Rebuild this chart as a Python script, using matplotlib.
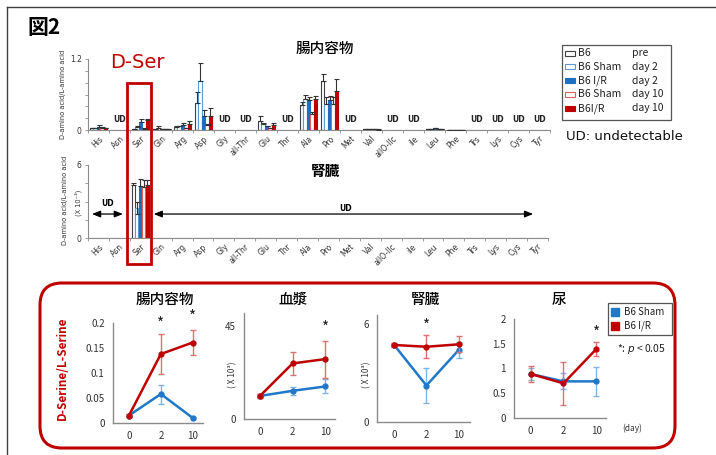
import numpy as np
import matplotlib
matplotlib.use("Agg")
import matplotlib.pyplot as plt
from matplotlib.patches import Rectangle, FancyBboxPatch

plt.rcParams['font.family'] = ['Noto Sans CJK JP', 'DejaVu Sans']

nan = np.nan

# ---- amino acid panel data (D-amino acid / L-amino acid) ----
amino_acids = ['His', 'Asn', 'Ser', 'Gln', 'Arg', 'Asp', 'Gly', 'all-Thr', 'Glu', 'Thr',
               'Ala', 'Pro', 'Met', 'Val', 'allO-Ilc', 'ile', 'Leu', 'Phe', 'Trs', 'Lys',
               'Cys', 'Tyr']
ud_gut = ['Asn', 'Gly', 'all-Thr', 'Thr', 'Met', 'allO-Ilc', 'ile', 'Trs', 'Lys', 'Cys', 'Tyr']

gut_pre = [0.03, nan, 0.01, 0.01, 0.05, 0.45, nan, nan, 0.16, nan, 0.42, 0.83, nan, 0.01, nan, nan, 0.02, 0.004, nan, nan, nan, nan]
gut_pre_err = [0.01, 0, 0.005, 0.005, 0.01, 0.20, 0, 0, 0.07, 0, 0.06, 0.11, 0, 0.005, 0, 0, 0.005, 0, 0, 0, 0, 0]
gut_sham2 = [0.03, nan, 0.05, 0.03, 0.06, 0.82, nan, nan, 0.10, nan, 0.53, 0.44, nan, 0.02, nan, nan, 0.02, 0.004, nan, nan, nan, nan]
gut_sham2_err = [0.01, 0, 0.02, 0.03, 0.01, 0.31, 0, 0, 0.01, 0, 0.06, 0.12, 0, 0.005, 0, 0, 0.005, 0, 0, 0, 0, 0]
gut_ir2 = [0.05, nan, 0.14, 0.01, 0.09, 0.23, nan, nan, 0.06, nan, 0.51, 0.50, nan, 0.01, nan, nan, 0.03, 0.004, nan, nan, nan, nan]
gut_ir2_err = [0.04, 0, 0.04, 0.005, 0.03, 0.11, 0, 0, 0.01, 0, 0.04, 0.07, 0, 0.005, 0, 0, 0.005, 0, 0, 0, 0, 0]
gut_sham10 = [0.04, nan, 0.02, 0.01, 0.03, 0.085, nan, nan, 0.03, nan, 0.27, 0.44, nan, 0.01, nan, nan, 0.01, 0.008, nan, nan, nan, nan]
gut_sham10_err = [0.01, 0, 0.01, 0.005, 0.01, 0.02, 0, 0, 0.01, 0, 0.03, 0.12, 0, 0.005, 0, 0, 0.005, 0, 0, 0, 0, 0]
gut_ir10 = [0.03, nan, 0.17, 0.02, 0.10, 0.24, nan, nan, 0.08, nan, 0.52, 0.66, nan, 0.005, nan, nan, 0.015, 0.003, nan, nan, nan, nan]
gut_ir10_err = [0.01, 0, 0.02, 0.005, 0.06, 0.14, 0, 0, 0.04, 0, 0.05, 0.20, 0, 0.005, 0, 0, 0.005, 0, 0, 0, 0, 0]

kid_pre = [nan, nan, 4.35] + [nan] * 19
kid_pre_err = [0, 0, 0.2] + [0] * 19
kid_sham2 = [nan, nan, 2.5] + [nan] * 19
kid_sham2_err = [0, 0, 0.5] + [0] * 19
kid_ir2 = [nan, nan, 4.25] + [nan] * 19
kid_ir2_err = [0, 0, 0.6] + [0] * 19
kid_sham10 = [nan, nan, 4.2] + [nan] * 19
kid_sham10_err = [0, 0, 0.55] + [0] * 19
kid_ir10 = [nan, nan, 4.35] + [nan] * 19
kid_ir10_err = [0, 0, 0.45] + [0] * 19

group_names = ['B6', 'B6 Sham', 'B6 I/R', 'B6 Sham', 'B6I/R']
group_days = ['pre', 'day 2', 'day 2', 'day 10', 'day 10']

# ---- time course data (D-Serine / L-Serine) ----
days = ['0', '2', '10']
gut_sham = [0.015, 0.058, 0.010]
gut_sham_err = [0.003, 0.019, 0.002]
gut_ir = [0.015, 0.138, 0.161]
gut_ir_err = [0.003, 0.040, 0.025]
plasma_sham = [11.2, 13.7, 15.8]
plasma_sham_err = [1.0, 2.0, 3.4]
plasma_ir = [11.2, 27.0, 29.1]
plasma_ir_err = [1.0, 5.5, 9.0]
kidney_sham = [4.73, 2.24, 4.42]
kidney_sham_err = [0.15, 1.05, 0.5]
kidney_ir = [4.73, 4.62, 4.77]
kidney_ir_err = [0.15, 0.72, 0.5]
urine_sham = [0.89, 0.74, 0.74]
urine_sham_err = [0.12, 0.16, 0.30]
urine_ir = [0.89, 0.70, 1.39]
urine_ir_err = [0.16, 0.44, 0.14]

W, H = 716, 455
fig = plt.figure(figsize=(W / 100, H / 100), dpi=100)
fig.patch.set_facecolor('white')


def axes_px(x0, y0, x1, y1):
    return fig.add_axes([x0 / W, 1 - y1 / H, (x1 - x0) / W, (y1 - y0) / H])


AX_GRAY = '#8c8c8c'
TXT_GRAY = '#333333'
RED = '#c00000'
BLUE = '#1f78c8'

bar_styles = [
    dict(facecolor='white', edgecolor='#404040'),
    dict(facecolor='white', edgecolor='#5b9bd5'),
    dict(facecolor='#1f6fc0', edgecolor='#1f6fc0'),
    dict(facecolor='white', edgecolor='#e06060'),
    dict(facecolor='#c00000', edgecolor='#c00000'),
]


def style_bar_axes(ax, ymax, yticklabels):
    for s in ['top', 'right']:
        ax.spines[s].set_visible(False)
    for s in ['left', 'bottom']:
        ax.spines[s].set_color(AX_GRAY)
        ax.spines[s].set_linewidth(0.8)
    ax.set_xlim(-0.5, len(amino_acids) - 0.5)
    ax.set_ylim(0, ymax)
    ax.set_xticks(np.arange(len(amino_acids)))
    ax.set_xticklabels(amino_acids, rotation=45, ha='right', rotation_mode='anchor',
                       fontsize=5.5, color=TXT_GRAY, family='DejaVu Sans')
    ax.tick_params(axis='x', which='major', length=0, pad=3)
    ax.set_xticks(np.arange(-0.5, len(amino_acids), 1), minor=True)
    ax.tick_params(axis='x', which='minor', length=2.5, color=AX_GRAY, width=0.6)
    ax.set_yticks(np.linspace(0, ymax, len(yticklabels)))
    ax.set_yticklabels(yticklabels, fontsize=5.5, color=TXT_GRAY, family='DejaVu Sans')
    ax.tick_params(axis='y', length=2.5, color=AX_GRAY, width=0.6, pad=2)


def draw_bars(ax, series, errs, width=0.16, symmetric=()):
    x = np.arange(len(amino_acids))
    for k, (vals, err) in enumerate(zip(series, errs)):
        vals = np.array(vals, dtype=float)
        err = np.array(err, dtype=float)
        pos = x + (k - 2) * 0.165
        ax.bar(pos, np.nan_to_num(vals), width=width, linewidth=0.8, zorder=2, **bar_styles[k])
        mask = ~np.isnan(vals)
        lower = err if k in symmetric else np.zeros_like(err)
        ax.errorbar(pos[mask], vals[mask], yerr=[lower[mask], err[mask]], fmt='none',
                    ecolor='#333333', elinewidth=0.8, capsize=1.8, capthick=0.8, zorder=3)


# ---- gut contents bar chart ----
ax1 = axes_px(88, 59, 550, 130)
style_bar_axes(ax1, 1.2, ['0', '', '', '', '', '', '1.2'])
draw_bars(ax1, [gut_pre, gut_sham2, gut_ir2, gut_sham10, gut_ir10],
          [gut_pre_err, gut_sham2_err, gut_ir2_err, gut_sham10_err, gut_ir10_err])
for name in ud_gut:
    ax1.text(amino_acids.index(name), 0.17, 'UD', ha='center', va='center',
             fontsize=5.5, fontweight='bold', color='#222222', family='DejaVu Sans')

# ---- kidney bar chart ----
ax2 = axes_px(88, 165, 548, 238)
style_bar_axes(ax2, 6, ['0', '', '', '', '6'])
draw_bars(ax2, [kid_pre, kid_sham2, kid_ir2, kid_sham10, kid_ir10],
          [kid_pre_err, kid_sham2_err, kid_ir2_err, kid_sham10_err, kid_ir10_err],
          symmetric=(1,))
arrow_kw = dict(arrowstyle='<|-|>,head_length=0.5,head_width=0.2', color='black', lw=0.9,
                shrinkA=0, shrinkB=0)
ax2.annotate('', xy=(-0.31, 1.97), xytext=(1.17, 1.97), arrowprops=arrow_kw)
ax2.annotate('', xy=(2.64, 1.97), xytext=(20.79, 1.97), arrowprops=arrow_kw)
ax2.text(0.43, 2.8, 'UD', ha='center', va='center', fontsize=5.5, fontweight='bold',
         family='DejaVu Sans')
ax2.text(11.8, 2.45, 'UD', ha='center', va='center', fontsize=5.5, fontweight='bold',
         family='DejaVu Sans')


# ---- time course line charts ----
def line_panel(box, xlim, ylim, yticks, yticklabels, sham, sham_err, ir, ir_err, stars):
    ax = axes_px(*box)
    for s in ['top', 'right']:
        ax.spines[s].set_visible(False)
    for s in ['left', 'bottom']:
        ax.spines[s].set_color('#8a8a8a')
        ax.spines[s].set_linewidth(1.0)
    x = np.arange(len(days))
    ax.errorbar(x, sham, yerr=sham_err, color=BLUE, ecolor='#7fb4e6', elinewidth=1.0,
                capsize=2.5, capthick=1.0, lw=1.8, marker='o', ms=3.5, zorder=3)
    ax.errorbar(x, ir, yerr=ir_err, color=RED, ecolor='#e07070', elinewidth=1.0,
                capsize=2.5, capthick=1.0, lw=1.8, marker='o', ms=3.5, zorder=4)
    ax.set_xlim(*xlim)
    ax.set_ylim(*ylim)
    ax.set_xticks(x)
    ax.set_xticklabels(days, fontsize=7, color=TXT_GRAY)
    ax.set_yticks(yticks)
    ax.set_yticklabels(yticklabels, fontsize=7, color=TXT_GRAY)
    ax.tick_params(length=0, pad=6)
    for xi, yi in stars:
        ax.text(xi, yi, '*', ha='center', va='center', fontsize=11, color='#222222',
                clip_on=False)
    return ax


line_panel((113, 323, 203, 423), (-0.5, 2.32), (0, 0.2),
           [0, 0.05, 0.1, 0.15, 0.2], ['0', '0.05', '0.1', '0.15', '0.2'],
           gut_sham, gut_sham_err, gut_ir, gut_ir_err, [(1, 0.197), (2, 0.211)])
line_panel((244, 313, 335, 419), (-0.49, 2.3), (0, 51.5),
           [0, 45], ['0', '45'],
           plasma_sham, plasma_sham_err, plasma_ir, plasma_ir_err, [(2, 44)])
line_panel((377, 315, 470, 422), (-0.53, 2.35), (0, 6.57),
           [0, 6], ['0', '6'],
           kidney_sham, kidney_sham_err, kidney_ir, kidney_ir_err, [(1, 5.9)])
line_panel((514, 319, 606, 418), (-0.51, 2.3), (0, 2),
           [0, 0.5, 1, 1.5, 2], ['0', '0.5', '1', '1.5', '2'],
           urine_sham, urine_sham_err, urine_ir, urine_ir_err, [(2, 1.72)])

# ---- annotation layer in pixel coordinates ----
ov = fig.add_axes([0, 0, 1, 1])
ov.set_xlim(0, W)
ov.set_ylim(H, 0)
ov.set_axis_off()

# frame lines
ov.plot([7, W], [7, 7], color='#404040', lw=1.0)
ov.plot([7, 7], [7, H], color='#404040', lw=1.0)

ov.text(27, 28, '図2', fontsize=15, fontweight='bold', ha='left', va='center')
ov.text(137, 62, 'D-Ser', fontsize=14, color=RED, ha='center', va='center',
        family='DejaVu Sans')
ov.add_patch(Rectangle((127, 83), 24, 181, fill=False, edgecolor=RED, lw=2.0))

ov.text(325, 49, '腸内容物', fontsize=10.5, fontweight='medium', ha='center', va='center')
ov.text(325, 171, '腎臓', fontsize=10.5, fontweight='bold', ha='center', va='center')

ov.text(63, 94, 'D-amino acid/L-amino acid', fontsize=4.8, rotation=90,
        ha='center', va='center', family='DejaVu Sans', color=TXT_GRAY)
ov.text(65, 200, 'D-amino acid/L-amino acid', fontsize=4.8, rotation=90,
        ha='center', va='center', family='DejaVu Sans', color=TXT_GRAY)
ov.text(78, 203, '(X 10⁻³)', fontsize=4.8, rotation=90,
        ha='center', va='center', family='DejaVu Sans', color=TXT_GRAY)

# legend for bar charts
ov.add_patch(Rectangle((562, 45), 109, 75, fill=False, edgecolor='#555555', lw=0.9))
row_y = [53.3, 66.7, 80.7, 94.3, 108.3]
for k in range(5):
    ov.add_patch(Rectangle((564.5, row_y[k] - 2.5), 10, 5, linewidth=0.8, **bar_styles[k]))
    ov.text(578, row_y[k], group_names[k], fontsize=7.5, ha='left', va='center',
            color='#222222')
    ov.text(632, row_y[k], group_days[k], fontsize=7.5, ha='left', va='center',
            color='#222222')
ov.text(566, 137, 'UD: undetectable', fontsize=9.5, ha='left', va='center',
        color='#111111', family='DejaVu Sans')

# rounded frame around time courses
ov.add_patch(FancyBboxPatch((40, 283), 635, 165,
                            boxstyle='round,pad=0,rounding_size=22',
                            fill=False, edgecolor=RED, lw=2.2))
ov.text(62, 368, 'D-Serine/L-Serine', fontsize=8.5, color=RED, rotation=90,
        ha='center', va='center', fontweight='bold')
for xc, title in [(165, '腸内容物'), (293, '血漿'), (425, '腎臓'), (559, '尿')]:
    ov.text(xc, 300, title, fontsize=10.5, ha='center', va='center', fontweight='medium')
for xc in (233, 367):
    ov.text(xc, 375, '( X 10³)', fontsize=6, rotation=90, ha='center', va='center',
            color=TXT_GRAY)
ov.text(632, 428, '(day)', fontsize=6, ha='center', va='center', color=TXT_GRAY)

# legend for time courses
ov.add_patch(Rectangle((608, 303), 64, 32, fill=False, edgecolor='#555555', lw=0.9))
ov.add_patch(Rectangle((611, 308), 8, 8, facecolor=BLUE, edgecolor=BLUE))
ov.add_patch(Rectangle((611, 322), 8, 8, facecolor=RED, edgecolor=RED))
ov.text(624, 312.3, 'B6 Sham', fontsize=7, ha='left', va='center', color='#222222')
ov.text(624, 326, 'B6 I/R', fontsize=7, ha='left', va='center', color='#222222')
ov.text(617, 349, '*: $\\it{p}$ < 0.05', fontsize=7.5, ha='left', va='center',
        color='#222222')

fig.savefig('out.png', dpi=100, facecolor='white')
